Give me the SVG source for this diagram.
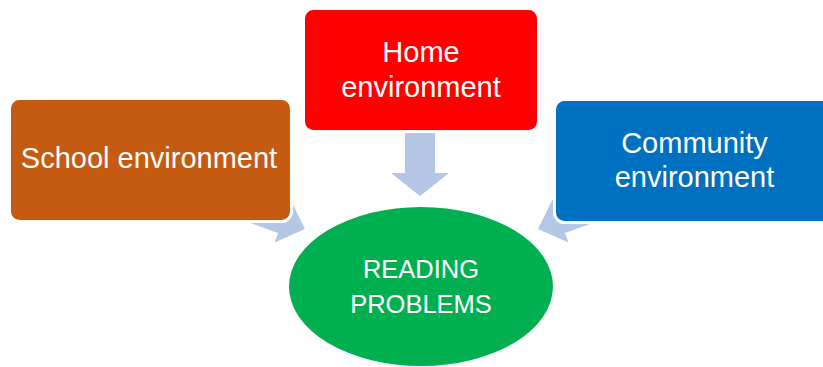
<svg xmlns="http://www.w3.org/2000/svg" width="823" height="367" viewBox="0 0 823 367">
  <defs>
    <style>
      .arrow { fill: #B4C7E7; }
      .box { stroke: #FFFFFF; stroke-width: 3; }
      .lbl { fill: #FFFFFF; font-family: "Liberation Sans", Arial, sans-serif; font-size: 29px; text-anchor: middle; }
      .lbl2 { fill: #FFFFFF; font-family: "Liberation Sans", Arial, sans-serif; font-size: 25.5px; text-anchor: middle; }
    </style>
    <polygon id="sideArrow" points="-74,-13 -24,-13 -24,-23 0,0 -24,23 -24,13 -74,13"/>
  </defs>
  <rect width="823" height="367" fill="#FFFFFF"/>
  <g id="connectors">
    <use href="#sideArrow" class="arrow" transform="translate(305,229) rotate(20)"/>
    <use href="#sideArrow" class="arrow" transform="translate(843,0) scale(-1,1) translate(305,229) rotate(20)"/>
    <polygon class="arrow" points="405,112 435,112 435,173 449,173 420,196 391,173 405,173"/>
  </g>
  <g id="school">
    <rect class="box" x="9.5" y="98.5" width="282" height="123" rx="10" fill="#C55A11"/>
    <text class="lbl" x="149" y="168">School environment</text>
  </g>
  <g id="home">
    <rect class="box" x="303.5" y="8.5" width="235" height="123" rx="10" fill="#FF0000"/>
    <text class="lbl" x="421" y="62">Home</text>
    <text class="lbl" x="421" y="97">environment</text>
  </g>
  <g id="community">
    <rect class="box" x="554.5" y="99.5" width="282" height="123" rx="10" fill="#0070C0"/>
    <text class="lbl" x="694.5" y="153">Community</text>
    <text class="lbl" x="694.5" y="187">environment</text>
  </g>
  <g id="reading">
    <ellipse cx="421" cy="286.5" rx="132" ry="79.5" fill="#00B050"/>
    <text class="lbl2" x="421" y="278">READING</text>
    <text class="lbl2" x="421" y="313">PROBLEMS</text>
  </g>
</svg>
